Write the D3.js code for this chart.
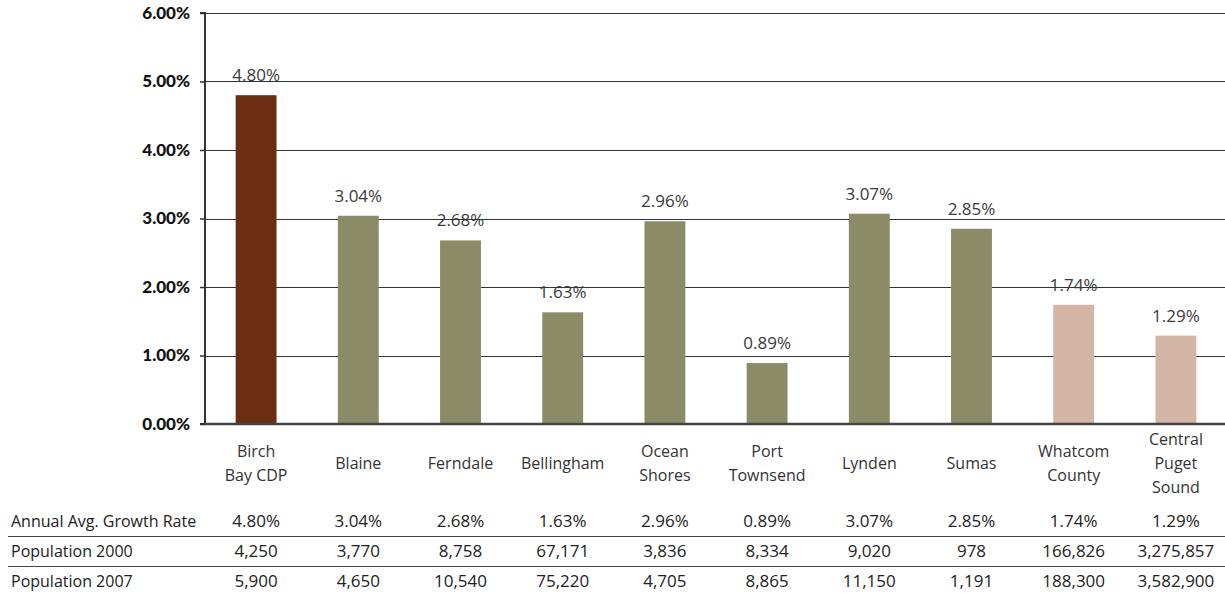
<!DOCTYPE html>
<html><head><meta charset="utf-8">
<script src="https://cdn.jsdelivr.net/npm/d3@7"></script>
<style>
body{margin:0;background:#fff;}
svg{display:block;font-family:"Open Sans","Lato",sans-serif;}
</style></head>
<body><svg id="c" width="1225" height="594"></svg>
<script>
const categories = [["Birch","Bay CDP"],["Blaine"],["Ferndale"],["Bellingham"],["Ocean","Shores"],["Port","Townsend"],["Lynden"],["Sumas"],["Whatcom","County"],["Central","Puget","Sound"]];
const growth = [4.80,3.04,2.68,1.63,2.96,0.89,3.07,2.85,1.74,1.29];
const pop2000 = ["4,250","3,770","8,758","67,171","3,836","8,334","9,020","978","166,826","3,275,857"];
const pop2007 = ["5,900","4,650","10,540","75,220","4,705","8,865","11,150","1,191","188,300","3,582,900"];
const barGroup = ["focus","city","city","city","city","city","city","city","region","region"];
const yTicks = [0,1,2,3,4,5,6];
const rowLabels = ["Annual Avg. Growth Rate","Population 2000","Population 2007"];

(function(){
const colors = {focus:"#6B2E13", city:"#8B8B67", region:"#D2B5A4"};
const svg = d3.select("#c");
const pLeft = 205, pRight = 1227, pTop = 13, pBottom = 424;
const x = d3.scaleBand().domain(d3.range(categories.length)).range([pLeft,pRight]).paddingInner(0.6).paddingOuter(0.3);
const y = d3.scaleLinear().domain([0,6]).range([pBottom,pTop]);

svg.append("g").selectAll("line").data(yTicks.filter(d=>d>0)).join("line")
  .attr("x1",pLeft).attr("x2",1225).attr("y1",d=>Math.round(y(d))+0.5).attr("y2",d=>Math.round(y(d))+0.5)
  .attr("stroke","#333").attr("stroke-width",1);

svg.append("g").selectAll("rect").data(growth).join("rect")
  .attr("x",(d,i)=>x(i)).attr("width",x.bandwidth())
  .attr("y",d=>y(d)).attr("height",d=>pBottom-y(d))
  .attr("fill",(d,i)=>colors[barGroup[i]]);

svg.append("g").selectAll("text").data(growth).join("text")
  .attr("x",(d,i)=>x(i)+x.bandwidth()/2).attr("y",d=>y(d)-14)
  .attr("text-anchor","middle").attr("font-size",17).attr("fill","#3a3a3a")
  .text(d=>d.toFixed(2)+"%");

const ya = svg.append("g").attr("transform",`translate(${pLeft},0)`)
  .call(d3.axisLeft(y).tickValues(yTicks).tickSize(5).tickPadding(10).tickFormat(d=>d.toFixed(2)+"%"));
ya.select(".domain").attr("stroke","#333").attr("stroke-width",2).attr("d",`M-5,${pTop}H0V${pBottom}H-5`);
ya.selectAll(".tick line").attr("stroke","#333").attr("stroke-width",1.5);
ya.selectAll(".tick text").attr("font-family","Lato, 'Open Sans', sans-serif").attr("font-size",17).attr("font-weight",900).attr("fill","#111");

svg.append("line").attr("x1",pLeft).attr("x2",1225).attr("y1",pBottom).attr("y2",pBottom).attr("stroke","#444").attr("stroke-width",2.5);

const cg = svg.append("g").selectAll("text").data(categories).join("text")
  .attr("text-anchor","middle").attr("font-size",16).attr("fill","#333")
  .attr("transform",(d,i)=>`translate(${x(i)+x.bandwidth()/2},${463 - (d.length-1)*12})`);
cg.selectAll("tspan").data(d=>d).join("tspan").attr("x",0).attr("dy",(d,j)=>j===0?"0.35em":"24").text(d=>d);

const rows = [growth.map(d=>d.toFixed(2)+"%"), pop2000, pop2007];
const rowY = [521,551,581];
rows.forEach((r,k)=>{
  svg.append("text").attr("x",11).attr("y",rowY[k]).attr("dy","0.35em").attr("font-size",16).attr("fill","#222").text(rowLabels[k]);
  svg.append("g").selectAll("text").data(r).join("text")
    .attr("x",(d,i)=>x(i)+x.bandwidth()/2).attr("y",rowY[k]).attr("dy","0.35em")
    .attr("text-anchor","middle").attr("font-size",17).attr("fill","#222").text(d=>d);
});
[536,566].forEach(yy=>svg.append("line").attr("x1",8).attr("x2",1225).attr("y1",yy+0.5).attr("y2",yy+0.5).attr("stroke","#444").attr("stroke-width",1));
})();
</script></body></html>
